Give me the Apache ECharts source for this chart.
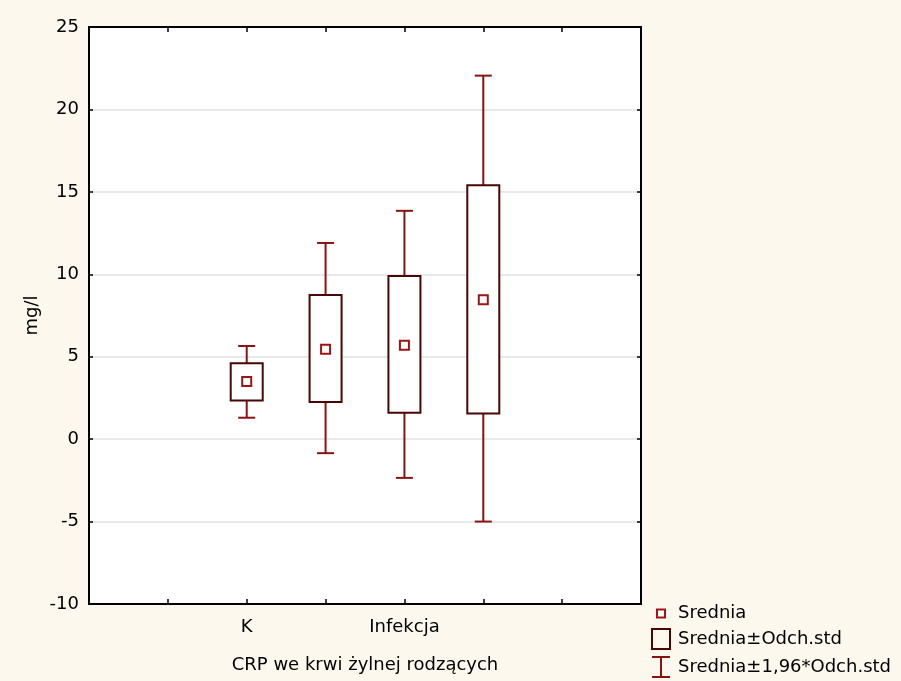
<!DOCTYPE html>
<html>
<head>
<meta charset="utf-8">
<title>CRP we krwi żylnej rodzących</title>
<script src="https://cdn.jsdelivr.net/npm/echarts@6/dist/echarts.min.js"></script>
<style>
  html, body { margin: 0; padding: 0; background: #fdf8ee; overflow: hidden; }
  #chart { width: 901px; height: 681px; }
</style>
</head>
<body>
<div id="chart"></div>
<script>
// group labels (only every second one is printed in the original)
const categories = ['K', '', 'Infekcja', ''];
// positions on the x scale (0..7)
const positions = [2, 3, 4, 5];
const means = [3.5, 5.45, 5.7, 8.45];
const sdLow = [2.35, 2.25, 1.6, 1.55];
const sdHigh = [4.6, 8.75, 9.9, 15.4];
const ciLow = [1.3, -0.85, -2.35, -5.0];
const ciHigh = [5.65, 11.9, 13.85, 22.05];
const yTicks = { min: -10, max: 25, step: 5 };

const FONT = 'DejaVu Sans';
const WHISKER = '#8c1212';
const BOX = '#4a0505';
const MEAN = '#a01414';

const chart = echarts.init(document.getElementById('chart'));

const whiskerData = positions.map((x, i) => [x, ciLow[i], ciHigh[i]]);
const boxData = positions.map((x, i) => [x, sdLow[i], sdHigh[i]]);
const meanData = positions.map((x, i) => [x, means[i]]);

function renderWhisker(params, api) {
  const x = api.value(0);
  const lo = api.coord([x, api.value(1)]);
  const hi = api.coord([x, api.value(2)]);
  const half = 8.5;
  const style = { stroke: WHISKER, lineWidth: 2 };
  return {
    type: 'group',
    children: [
      { type: 'line', shape: { x1: lo[0], y1: lo[1], x2: hi[0], y2: hi[1] }, style },
      { type: 'line', shape: { x1: lo[0] - half, y1: lo[1], x2: lo[0] + half, y2: lo[1] }, style },
      { type: 'line', shape: { x1: hi[0] - half, y1: hi[1], x2: hi[0] + half, y2: hi[1] }, style }
    ]
  };
}

function renderBox(params, api) {
  const x = api.value(0);
  const lo = api.coord([x, api.value(1)]);
  const hi = api.coord([x, api.value(2)]);
  return {
    type: 'rect',
    shape: { x: lo[0] - 16, y: hi[1], width: 32, height: lo[1] - hi[1] },
    style: { fill: '#fff', stroke: BOX, lineWidth: 2 }
  };
}

const legendText = { color: '#000', fontFamily: FONT, fontSize: 18 };
const frameLine = { show: true, onZero: false, lineStyle: { color: '#000', width: 2 } };
const innerTick = { show: true, inside: true, length: 5, lineStyle: { color: '#000', width: 1.5 } };

const option = {
  backgroundColor: '#fdf8ee',
  animation: false,
  textStyle: { fontFamily: FONT },
  grid: {
    left: 89, right: 260, top: 27, bottom: 77,
    outerBoundsMode: 'none',
    containLabel: false,
    show: true, backgroundColor: '#fff', borderColor: '#000', borderWidth: 2
  },
  legend: [
    {
      left: 656, top: 604.5, padding: 0, orient: 'vertical', selectedMode: false,
      itemWidth: 24, itemHeight: 8, textStyle: legendText,
      data: [{
        name: 'Srednia', icon: 'path://M0,0H10V10H0Z',
        itemStyle: { color: '#fff', borderColor: MEAN, borderWidth: 2 }
      }]
    },
    {
      left: 651, top: 628, padding: 0, orient: 'vertical', selectedMode: false,
      itemWidth: 24, itemHeight: 20, textStyle: legendText,
      data: [{
        name: 'Srednia±Odch.std', icon: 'path://M0,0H18V20H0Z',
        itemStyle: { color: 'rgba(0,0,0,0)', borderColor: BOX, borderWidth: 2 }
      }]
    },
    {
      left: 651, top: 656, padding: 0, orient: 'vertical', selectedMode: false,
      itemWidth: 24, itemHeight: 20, textStyle: legendText,
      data: [{
        name: 'Srednia±1,96*Odch.std', icon: 'path://M0,0H18M9,0V20M0,20H18',
        itemStyle: { color: 'rgba(0,0,0,0)', borderColor: WHISKER, borderWidth: 2 }
      }]
    }
  ],
  xAxis: [
    {
      type: 'value', position: 'bottom', min: 0, max: 7, interval: 1,
      name: 'CRP we krwi żylnej rodzących', nameLocation: 'middle', nameGap: 52,
      nameTextStyle: { color: '#000', fontSize: 18, fontFamily: FONT },
      axisLine: frameLine,
      axisTick: innerTick,
      axisLabel: {
        color: '#000', fontSize: 18, fontFamily: FONT, margin: 14,
        formatter: v => {
          const i = positions.indexOf(v);
          return i >= 0 ? categories[i] : '';
        }
      },
      splitLine: { show: false }
    },
    {
      type: 'value', position: 'top', min: 0, max: 7, interval: 1,
      axisLine: frameLine,
      axisTick: innerTick,
      axisLabel: { show: false },
      splitLine: { show: false }
    }
  ],
  yAxis: [
    {
      type: 'value', position: 'left', min: yTicks.min, max: yTicks.max, interval: yTicks.step,
      name: 'mg/l', nameLocation: 'middle', nameGap: 48, nameRotate: 90,
      nameMoveOverlap: false,
      nameTextStyle: { color: '#000', fontSize: 18, fontFamily: FONT },
      axisLine: frameLine,
      axisTick: { ...innerTick, length: 4 },
      axisLabel: { color: '#000', fontSize: 18, fontFamily: FONT, margin: 10 },
      splitLine: { show: true, lineStyle: { color: '#e2e2e2', width: 1.5 } }
    },
    {
      type: 'value', position: 'right', min: yTicks.min, max: yTicks.max, interval: yTicks.step,
      axisLine: frameLine,
      axisTick: { ...innerTick, length: 4 },
      axisLabel: { show: false },
      splitLine: { show: false }
    }
  ],
  series: [
    {
      name: 'Srednia±1,96*Odch.std', type: 'custom', z: 2,
      xAxisIndex: 0, yAxisIndex: 0,
      itemStyle: { color: WHISKER },
      encode: { x: 0, y: [1, 2] },
      renderItem: renderWhisker,
      data: whiskerData
    },
    {
      name: 'Srednia±Odch.std', type: 'custom', z: 3,
      xAxisIndex: 0, yAxisIndex: 0,
      itemStyle: { color: BOX },
      encode: { x: 0, y: [1, 2] },
      renderItem: renderBox,
      data: boxData
    },
    {
      name: 'Srednia', type: 'scatter', z: 4,
      xAxisIndex: 0, yAxisIndex: 0,
      symbol: 'rect', symbolSize: 9,
      itemStyle: { color: '#fff', borderColor: MEAN, borderWidth: 2, opacity: 1 },
      emphasis: { disabled: true },
      data: meanData
    }
  ]
};

chart.setOption(option);
</script>
</body>
</html>
